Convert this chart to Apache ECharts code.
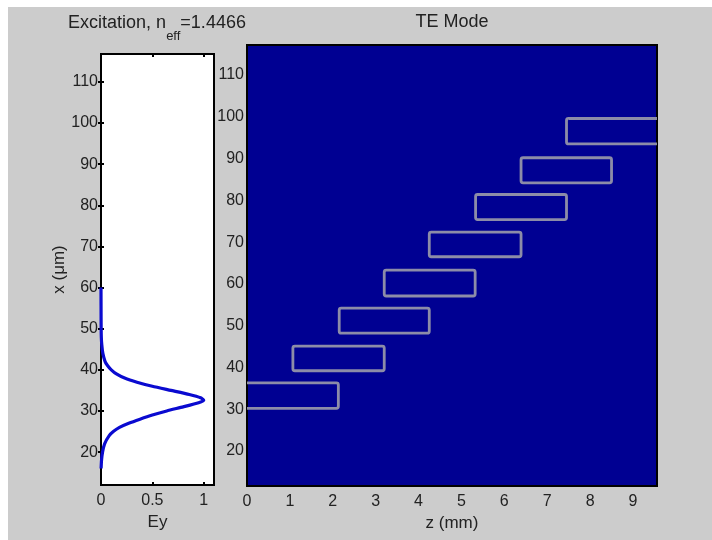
<!DOCTYPE html>
<html>
<head>
<meta charset="utf-8">
<script src="https://cdn.jsdelivr.net/npm/echarts@6/dist/echarts.min.js"></script>
<style>
html, body { margin: 0; padding: 0; background: #fff; }
#main { width: 712px; height: 540px; }
</style>
</head>
<body>
<div id="main"></div>
<script>
// excitation profile: x (um) and Ey (normalised)
var profileX  = [16, 18, 20, 22, 24, 25, 26, 27, 28, 29, 30, 31, 32, 32.6, 33.2, 34, 35, 36, 37, 38, 39, 40, 41, 42, 44, 46, 48, 52, 60];
var profileEy = [0.001, 0.005, 0.015, 0.035, 0.08, 0.12, 0.18, 0.27, 0.38, 0.5, 0.64, 0.8, 0.95, 1.0, 0.97, 0.86, 0.68, 0.5, 0.35, 0.23, 0.15, 0.1, 0.065, 0.04, 0.018, 0.008, 0.003, 0.001, 0];

// waveguide segments (z in mm, x in um)
var guideZStart  = [-0.05, 1.07, 2.15, 3.2, 4.25, 5.33, 6.39, 7.45];
var guideZEnd    = [2.13, 3.2, 4.25, 5.32, 6.39, 7.45, 8.5, 9.7];
var guideXBottom = [30.2, 39.2, 48.2, 57.1, 66.5, 75.4, 84.2, 93.5];
var guideXTop    = [36.3, 45.1, 54.2, 63.3, 72.4, 81.4, 90.2, 99.6];

var xTicks  = [20, 30, 40, 50, 60, 70, 80, 90, 100, 110];
var eyTicks = [0, 0.5, 1];
var zTicks  = [0, 1, 2, 3, 4, 5, 6, 7, 8, 9];

var font = '"Liberation Sans Narrow", "Liberation Sans", Arial, sans-serif';
var txt = '#222';

var profileData = profileX.map(function (x, i) { return [profileEy[i], x]; });
var guideData = guideZStart.map(function (z, i) {
    return [z, guideZEnd[i], guideXBottom[i], guideXTop[i]];
});

var chart = echarts.init(document.getElementById('main'));

function tickAxis(extra) {
    var base = {
        axisLine: {show: false},
        splitLine: {show: false},
        axisTick: {show: false},
        axisLabel: {show: false}
    };
    return Object.assign(base, extra);
}

chart.setOption({
    backgroundColor: '#fff',
    animation: false,
    graphic: [
        {type: 'rect', z: -10, shape: {x: 8, y: 7, width: 712, height: 540}, style: {fill: '#cccccc'}},
        {
            type: 'text', x: 157, y: 14, z: 10,
            style: {
                text: '{a|Excitation, n}{s|eff}{a|=1.4466}',
                align: 'center', verticalAlign: 'top',
                rich: {
                    a: {fontFamily: font, fontSize: 18, fill: txt, lineHeight: 20, verticalAlign: 'top'},
                    s: {fontFamily: font, fontSize: 13, fill: txt, lineHeight: 13, verticalAlign: 'top', padding: [16, 0, 0, 0]}
                }
            }
        },
        {
            type: 'text', x: 452, y: 22, z: 10,
            style: {text: 'TE Mode', fontFamily: font, fontSize: 18, fill: txt, align: 'center', verticalAlign: 'middle'}
        }
    ],
    grid: [
        {left: 101, top: 54, width: 113, height: 431, show: true, backgroundColor: '#fff', borderColor: '#000', borderWidth: 2},
        {left: 247, top: 45, width: 410, height: 441, show: true, backgroundColor: '#000092', borderColor: '#000', borderWidth: 2}
    ],
    xAxis: [
        {
            gridIndex: 0, type: 'value', min: 0, max: 1.1,
            name: 'Ey', nameLocation: 'middle', nameGap: 28,
            nameTextStyle: {fontFamily: font, fontSize: 17, color: txt},
            axisLine: {show: true, onZero: false, lineStyle: {color: '#000', width: 2}},
            splitLine: {show: false},
            axisTick: {inside: true, length: 3, customValues: eyTicks, lineStyle: {color: '#000', width: 2}},
            axisLabel: {customValues: eyTicks, margin: 8, fontFamily: font, fontSize: 16, color: txt}
        },
        tickAxis({
            gridIndex: 0, type: 'value', min: 0, max: 1.1, position: 'top',
            axisTick: {show: true, inside: true, length: 3, customValues: eyTicks, lineStyle: {color: '#000', width: 2}}
        }),
        {
            gridIndex: 1, type: 'value', min: 0, max: 9.56,
            name: 'z (mm)', nameLocation: 'middle', nameGap: 28,
            nameTextStyle: {fontFamily: font, fontSize: 17, color: txt},
            axisLine: {show: true, onZero: false, lineStyle: {color: '#000', width: 2}},
            splitLine: {show: false},
            axisTick: {show: false},
            axisLabel: {customValues: zTicks, margin: 8, fontFamily: font, fontSize: 16, color: txt}
        }
    ],
    yAxis: [
        {
            gridIndex: 0, type: 'value', min: 12, max: 116.8,
            name: 'x (\u03bcm)', nameLocation: 'middle', nameGap: 19, nameRotate: 90,
            nameTextStyle: {fontFamily: font, fontSize: 17, color: txt},
            axisLine: {show: true, onZero: false, lineStyle: {color: '#000', width: 2}},
            splitLine: {show: false},
            axisTick: {inside: true, length: 3, customValues: xTicks, lineStyle: {color: '#000', width: 2}},
            axisLabel: {customValues: xTicks, margin: 3, fontFamily: font, fontSize: 16, color: txt}
        },
        tickAxis({
            gridIndex: 0, type: 'value', min: 12, max: 116.8, position: 'right',
            axisTick: {show: true, inside: true, length: 3, customValues: xTicks, lineStyle: {color: '#000', width: 2}}
        }),
        {
            gridIndex: 1, type: 'value', min: 11.6, max: 117.2,
            axisLine: {show: true, onZero: false, lineStyle: {color: '#000', width: 2}},
            splitLine: {show: false},
            axisTick: {show: false},
            axisLabel: {customValues: xTicks, margin: 3, fontFamily: font, fontSize: 16, color: txt}
        }
    ],
    series: [
        {
            type: 'line', xAxisIndex: 0, yAxisIndex: 0,
            data: profileData, showSymbol: false, smooth: 0.2,
            lineStyle: {color: '#0a0ad0', width: 3.2}
        },
        {
            type: 'custom', xAxisIndex: 2, yAxisIndex: 2, clip: true,
            data: guideData,
            encode: {x: [0, 1], y: [2, 3]},
            renderItem: function (params, api) {
                var p0 = api.coord([api.value(0), api.value(3)]);
                var p1 = api.coord([api.value(1), api.value(2)]);
                return {
                    type: 'rect',
                    shape: {x: p0[0], y: p0[1], width: p1[0] - p0[0], height: p1[1] - p0[1], r: 2},
                    style: {fill: 'none', stroke: '#8c8ca8', lineWidth: 2.8}
                };
            }
        }
    ]
});
</script>
</body>
</html>
